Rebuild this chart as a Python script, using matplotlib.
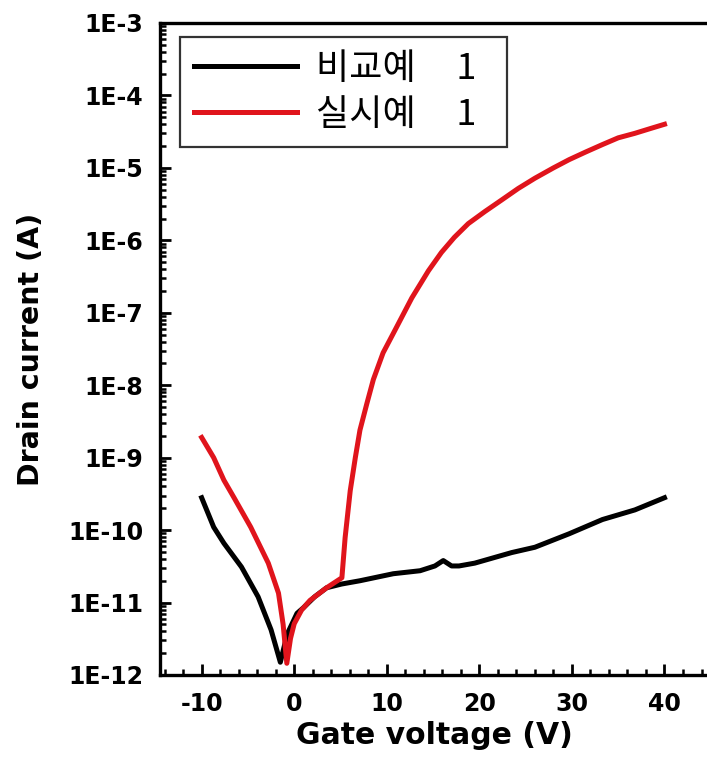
import matplotlib
matplotlib.use("Agg")
import matplotlib.pyplot as plt
from matplotlib.ticker import LogLocator, MultipleLocator, NullFormatter

# ---- data ----
gate_black = [-10, -8.7, -7.6, -5.7, -3.9, -2.5, -1.5, -0.75, 0.3, 1.0, 2.2, 3.5, 5.1,
              7.1, 10.7, 13.6, 15.2, 16.1, 17.0, 17.8, 19.5, 23.5, 26, 29.7, 33.3,
              36.8, 40]
drain_black = [2.8e-10, 1.1e-10, 6.6e-11, 3.1e-11, 1.2e-11, 4.2e-12, 1.5e-12, 3.7e-12,
               7.1e-12, 8.5e-12, 1.2e-11, 1.6e-11, 1.8e-11, 2.0e-11, 2.5e-11, 2.75e-11,
               3.2e-11, 3.8e-11, 3.2e-11, 3.2e-11, 3.5e-11, 4.9e-11, 5.8e-11, 8.9e-11,
               1.4e-10, 1.9e-10, 2.8e-10]

gate_red = [-10, -8.7, -7.6, -6.5, -4.7, -2.8, -1.7, -1.2, -0.8, -0.4, 0.0, 0.8, 1.7,
            3.5, 5.15, 5.5, 6.05, 6.6, 7.1, 7.85, 8.55, 9.6, 10.9, 12.7, 14.5, 15.9,
            17.3, 18.8, 20.6, 22.4, 24.2, 26, 28, 29.7, 31.5, 33.3, 35, 36.8, 38.5, 40]
drain_red = [1.9e-9, 1.0e-9, 4.9e-10, 2.8e-10, 1.1e-10, 3.5e-11, 1.35e-11, 5.0e-12,
             1.45e-12, 3.2e-12, 5.1e-12, 7.9e-12, 1.07e-11, 1.6e-11, 2.2e-11, 7.9e-11,
             3.5e-10, 1.0e-9, 2.4e-9, 5.6e-9, 1.2e-8, 2.8e-8, 5.8e-8, 1.6e-7, 3.8e-7,
             6.8e-7, 1.1e-6, 1.7e-6, 2.5e-6, 3.6e-6, 5.2e-6, 7.2e-6, 1.0e-5, 1.3e-5,
             1.66e-5, 2.1e-5, 2.6e-5, 3.0e-5, 3.5e-5, 4.0e-5]

series_labels = ["비교예     1  ", "실시예     1  "]
x_ticks = [-10, 0, 10, 20, 30, 40]
y_ticks = [1e-12, 1e-11, 1e-10, 1e-9, 1e-8, 1e-7, 1e-6, 1e-5, 1e-4, 1e-3]
y_tick_labels = ["1E-12", "1E-11", "1E-10", "1E-9", "1E-8", "1E-7", "1E-6",
                 "1E-5", "1E-4", "1E-3"]

W, H = 707, 762
fig = plt.figure(figsize=(W / 100, H / 100), dpi=100)
ax = fig.add_axes([160 / W, (H - 675) / H, (708 - 160) / W, (675 - 23) / H])

ax.plot(gate_black, drain_black, color="black", lw=3.6, label=series_labels[0],
        solid_joinstyle="round")
ax.plot(gate_red, drain_red, color="#e0141c", lw=3.6, label=series_labels[1],
        solid_joinstyle="round")

ax.set_yscale("log")
ax.set_xlim(-14.5, 44.7)
ax.set_ylim(1e-12, 1e-3)

tick_font = dict(family="DejaVu Sans", weight="bold", size=17)
ax.set_xticks(x_ticks)
ax.set_xticklabels([str(v) for v in x_ticks], fontdict=tick_font)
ax.xaxis.set_minor_locator(MultipleLocator(2))
ax.set_yticks(y_ticks)
ax.set_yticklabels(y_tick_labels, fontdict=tick_font)
ax.yaxis.set_minor_locator(LogLocator(base=10, subs=range(2, 10), numticks=100))
ax.yaxis.set_minor_formatter(NullFormatter())

ax.tick_params(which="major", direction="in", length=8, width=2,
               top=False, right=False)
ax.tick_params(which="minor", direction="in", length=4.5, width=1.8,
               top=False, right=False)
ax.tick_params(axis="y", which="major", pad=12)
ax.tick_params(axis="x", which="major", pad=12)

for s in ["left", "bottom", "top"]:
    ax.spines[s].set_linewidth(2.4)
ax.spines["right"].set_visible(False)

ax.set_xlabel("Gate voltage (V)", family="DejaVu Sans", weight="bold",
              size=21.5, labelpad=4)
ax.set_ylabel("Drain current (A)", family="DejaVu Sans", weight="bold",
              size=20.5, labelpad=17)

leg = ax.legend(loc="upper left", bbox_to_anchor=(180 / W, 1 - 37 / H),
                bbox_transform=fig.transFigure,
                prop={"family": ["Noto Sans CJK KR", "DejaVu Sans"], "size": 26},
                frameon=True, fancybox=False, shadow=False, borderaxespad=0,
                borderpad=0.38, handlelength=2.85, handletextpad=0.55,
                labelspacing=0.28)
leg.get_frame().set_edgecolor("black")
leg.get_frame().set_linewidth(1.6)

fig.savefig("out.png", dpi=100)
